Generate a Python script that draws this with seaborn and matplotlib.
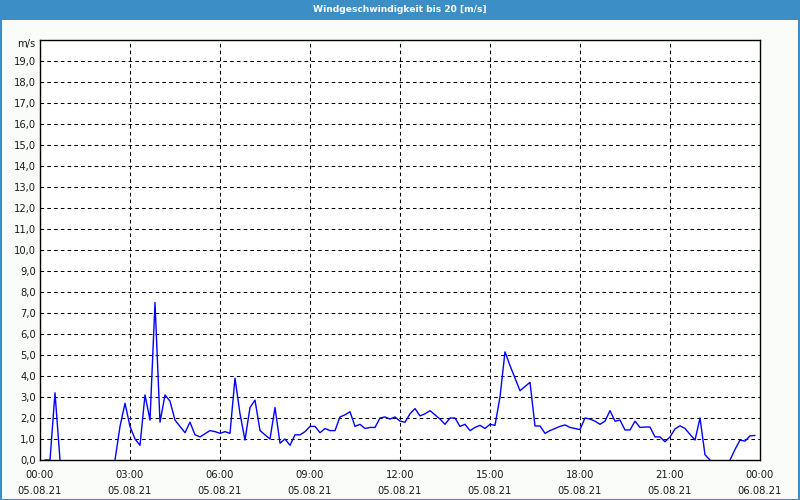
import matplotlib
matplotlib.use("Agg")
import matplotlib.pyplot as plt
import matplotlib.patches as mpatches
import seaborn as sns
import numpy as np
import pandas as pd

# ---------------- data (m/s, 10-minute readings) ----------------
seg1_start = "2021-08-05 00:10"
seg1_values = [0.0, 0.0, 3.2, 0.0]

seg2_start = "2021-08-05 02:30"
seg2_values = [
    0.0, 1.6, 2.7, 1.6, 1.0, 0.7, 3.1, 1.9, 7.5,          # 02:30-03:50
    1.8, 3.1, 2.8, 1.9, 1.6, 1.3,                           # 04:00-04:50
    1.8, 1.2, 1.1, 1.25, 1.4, 1.35,                         # 05:00-05:50
    1.27, 1.35, 1.27, 3.9, 2.2, 0.95,                       # 06:00-06:50
    2.5, 2.85, 1.4, 1.2, 1.0, 2.5,                          # 07:00-07:50
    0.8, 1.0, 0.7, 1.2, 1.2, 1.35,                          # 08:00-08:50
    1.6, 1.6, 1.3, 1.5, 1.4, 1.4,                           # 09:00-09:50
    2.05, 2.15, 2.3, 1.6, 1.7, 1.5,                         # 10:00-10:50
    1.55, 1.55, 2.0, 2.05, 1.95, 2.05,                      # 11:00-11:50
    1.85, 1.8, 2.2, 2.45, 2.1, 2.2,                         # 12:00-12:50
    2.35, 2.15, 1.95, 1.7, 2.0, 2.0,                        # 13:00-13:50
    1.6, 1.7, 1.4, 1.55, 1.65, 1.5,                         # 14:00-14:50
    1.7, 1.65, 3.0, 5.15, 4.5, 3.9,                         # 15:00-15:50
    3.3, 3.5, 3.7, 1.62, 1.62, 1.27,                        # 16:00-16:50
    1.4, 1.5, 1.6, 1.67, 1.55, 1.5,                         # 17:00-17:50
    1.45, 2.0, 1.95, 1.85, 1.7, 1.85,                       # 18:00-18:50
    2.35, 1.85, 1.9, 1.43, 1.43, 1.85,                      # 19:00-19:50
    1.55, 1.57, 1.57, 1.1, 1.1, 0.87,                       # 20:00-20:50
    1.1, 1.48, 1.63, 1.5, 1.22, 0.95,                       # 21:00-21:50
    2.0, 0.25, 0.0,                                         # 22:00-22:20
]

seg3_start = "2021-08-05 23:00"
seg3_values = [0.0, 0.5, 0.95, 0.9, 1.15, 1.17]

day_start = pd.Timestamp("2021-08-05 00:00")
x_tick_hours = [0, 3, 6, 9, 12, 15, 18, 21, 24]
x_tick_labels = ["00:00\n05.08.21", "03:00\n05.08.21", "06:00\n05.08.21",
                 "09:00\n05.08.21", "12:00\n05.08.21", "15:00\n05.08.21",
                 "18:00\n05.08.21", "21:00\n05.08.21", "00:00\n06.08.21"]
y_ticks = list(range(0, 20))
y_tick_labels = [f"{v},0" for v in y_ticks]
title = "Windgeschwindigkeit bis 20 [m/s]"
unit = "m/s"

# ---------------- build table ----------------
frames = []
for i, (start, vals) in enumerate([(seg1_start, seg1_values),
                                   (seg2_start, seg2_values),
                                   (seg3_start, seg3_values)]):
    t = pd.date_range(start, periods=len(vals), freq="10min")
    frames.append(pd.DataFrame({
        "hours": (t - day_start).total_seconds() / 3600.0,
        "speed": vals,
        "seg": i,
    }))
df = pd.concat(frames, ignore_index=True)

# ---------------- figure ----------------
sns.set_style("white")
plt.rcParams["font.family"] = ["DejaVu Sans"]

W, H = 800, 500
fig = plt.figure(figsize=(8, 5), dpi=100, facecolor="#fafcfa")
ax = fig.add_axes([40 / W, 40 / H, 720 / W, 420 / H])
ax.set_facecolor("white")

sns.lineplot(data=df, x="hours", y="speed", units="seg", estimator=None,
             color="#0000ff", linewidth=1.0, ax=ax, legend=False,
             clip_on=True, zorder=3)

ax.set_xlim(0, 24)
ax.set_ylim(0, 20)
ax.set_xlabel("")
ax.set_ylabel("")

ax.set_yticks(y_ticks)
ax.set_yticklabels(y_tick_labels)
ax.set_xticks(x_tick_hours)
ax.set_xticklabels(x_tick_labels, linespacing=1.75)
ax.set_xticks(np.arange(0, 25, 1), minor=True)

ax.tick_params(axis="y", length=0, pad=3, labelsize=7.2, labelcolor="#1a1a1a")
ax.tick_params(axis="x", which="major", length=0, pad=7, labelsize=7.2,
               labelcolor="#1a1a1a")
ax.tick_params(axis="x", which="minor", direction="in", length=3,
               width=0.8, color="black")

# dashed grid
for v in y_ticks[1:]:
    ax.axhline(v, color="black", lw=0.75, ls=(0, (3.5, 3)), zorder=1)
for h in x_tick_hours[1:-1]:
    ax.axvline(h, color="black", lw=0.75, ls=(0, (3.5, 3)), zorder=1)

for s in ax.spines.values():
    s.set_visible(True)
    s.set_color("black")
    s.set_linewidth(1.0)
    s.set_zorder(2)

# unit label at the top of the y axis
ax.annotate(unit, xy=(0, 19.8), xycoords=("axes fraction", "data"),
            xytext=(-3, 0), textcoords="offset points",
            ha="right", va="center", fontsize=7.2, color="#1a1a1a")

# title bar
fig.patches.append(mpatches.Rectangle((0, 1 - 20 / H), 1, 20 / H,
                                      transform=fig.transFigure,
                                      facecolor="#3c8fc6", edgecolor="none",
                                      zorder=0))
fig.text(0.5, 1 - 10 / H, title, ha="center", va="center",
         color="white", fontsize=6.6, fontweight="bold")
# outer border
fig.patches.append(mpatches.Rectangle((0.5 / W, 0.5 / H), 1 - 1.5 / W, 1 - 1 / H,
                                      transform=fig.transFigure,
                                      facecolor="none", edgecolor="#3c8fc6",
                                      linewidth=1.5, zorder=0))

fig.savefig("out.png", dpi=100, facecolor=fig.get_facecolor())
